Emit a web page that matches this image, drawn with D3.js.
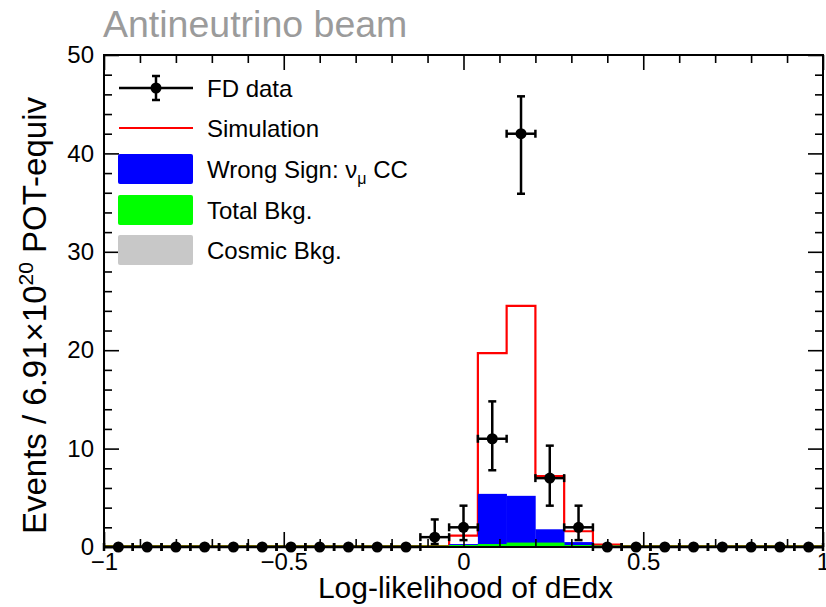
<!DOCTYPE html>
<html>
<head>
<meta charset="utf-8">
<script src="https://cdn.jsdelivr.net/npm/d3@7"></script>
<style>
  html, body { margin: 0; padding: 0; background: #fff; }
  svg { display: block; font-family: "Liberation Sans", Arial, Helvetica, sans-serif; }
</style>
</head>
<body>
<svg id="chart" width="826" height="607"></svg>
<script>
// ---- data ----
const binCenters = [-0.96, -0.88, -0.80, -0.72, -0.64, -0.56, -0.48, -0.40, -0.32, -0.24, -0.16, -0.08,
                    0.00, 0.08, 0.16, 0.24, 0.32, 0.40, 0.48, 0.56, 0.64, 0.72, 0.80, 0.88, 0.96];
const fdData   = [0,0,0,0,0,0,0,0,0,0,0, 1, 2, 11, 42, 7, 2, 0,0,0,0,0,0,0,0];
const fdLow    = [0,0,0,0,0,0,0,0,0,0,0, 0.3, 0.7, 7.8, 35.9, 4.2, 0.7, 0,0,0,0,0,0,0,0];
const fdHigh   = [0,0,0,0,0,0,0,0,0,0,0, 2.8, 4.2, 14.8, 45.8, 10.3, 4.2, 0,0,0,0,0,0,0,0];
const simulation = [0.1,0.1,0.1,0.1,0.1,0.1,0.1,0.1,0.1,0.1,0.1, 0.1, 1.15, 19.7, 24.5, 7.2, 1.6, 0.25, 0.1,0.1,0.1,0.1,0.1,0.1,0.1];
const wrongSign  = [0,0,0,0,0,0,0,0,0,0,0, 0.05, 0.3, 5.4, 5.2, 1.8, 0.5, 0.05, 0,0,0,0,0,0,0];
const totalBkg   = [0.15,0.15,0.15,0.15,0.15,0.15,0.15,0.15,0.15,0.15,0.15, 0.15, 0.2, 0.3, 0.45, 0.45, 0.2, 0.15, 0.15,0.15,0.15,0.15,0.15,0.15,0.15];
const cosmicBkg  = [0.1,0.1,0.1,0.1,0.1,0.1,0.1,0.1,0.1,0.1,0.1, 0.1, 0.1, 0.1, 0.1, 0.1, 0.1, 0.1, 0.1,0.1,0.1,0.1,0.1,0.1,0.1];
const xMajorTicks = [-1, -0.5, 0, 0.5, 1];
const yMajorTicks = [0, 10, 20, 30, 40, 50];
const legendLabels = ["FD data", "Simulation", "Wrong Sign: ", "Total Bkg.", "Cosmic Bkg."];

// ---- layout ----
const svg = d3.select("#chart");
const x = d3.scaleLinear().domain([-1, 1]).range([104, 823]);
const y = d3.scaleLinear().domain([0, 50]).range([547, 55]);
const binW = binCenters[1] - binCenters[0];

// title
svg.append("text").attr("x", 103).attr("y", 37)
  .attr("font-size", 37.5).attr("fill", "#9b9b9b").text("Antineutrino beam");

const plot = svg.append("g");

// Simulation (red step line) drawn first
const stepPts = [];
binCenters.forEach((c, i) => {
  stepPts.push([c - binW / 2, simulation[i]]);
  stepPts.push([c + binW / 2, simulation[i]]);
});
plot.append("path")
  .attr("d", d3.line().x(d => x(d[0])).y(d => y(d[1]))(stepPts))
  .attr("fill", "none").attr("stroke", "#ff0000").attr("stroke-width", 2.2);

// filled histograms
function fillHist(vals, color) {
  plot.append("g").selectAll("rect").data(binCenters).join("rect")
    .attr("x", c => x(c - binW / 2))
    .attr("width", c => x(c + binW / 2) - x(c - binW / 2) + 0.3)
    .attr("y", (c, i) => y(vals[i]))
    .attr("height", (c, i) => y(0) - y(vals[i]))
    .attr("fill", color);
}
fillHist(wrongSign, "#0000ff");
fillHist(totalBkg, "#00ff00");
fillHist(cosmicBkg, "#c8c8c8");

// axes ticks
function styleAxis(g) {
  g.select(".domain").remove();
  g.selectAll(".tick line").attr("stroke", "#000").attr("stroke-width", 1.6);
  g.selectAll("text").attr("font-size", 24).attr("fill", "#000")
    .attr("font-family", "'Liberation Sans', Arial, sans-serif");
}
const xMinor = d3.range(-10, 11).map(v => v / 10).filter(v => !xMajorTicks.some(m => Math.abs(m - v) < 1e-9));
const yMinor = d3.range(0, 51, 2).filter(v => v % 10 !== 0);
const fmt = d3.format("~g");

svg.append("g").attr("transform", `translate(0,${y(0)})`)
  .call(d3.axisBottom(x).tickValues(xMajorTicks).tickSize(-15).tickPadding(6).tickFormat(fmt)).call(styleAxis);
svg.append("g").attr("transform", `translate(0,${y(0)})`)
  .call(d3.axisBottom(x).tickValues(xMinor).tickSize(-8).tickFormat("")).call(styleAxis);
svg.append("g").attr("transform", `translate(0,${y(50)})`)
  .call(d3.axisTop(x).tickValues(xMajorTicks).tickSize(-15).tickFormat("")).call(styleAxis);
svg.append("g").attr("transform", `translate(0,${y(50)})`)
  .call(d3.axisTop(x).tickValues(xMinor).tickSize(-8).tickFormat("")).call(styleAxis);

svg.append("g").attr("transform", `translate(${x(-1)},0)`)
  .call(d3.axisLeft(y).tickValues(yMajorTicks).tickSize(-15).tickPadding(10).tickFormat(fmt)).call(styleAxis);
svg.append("g").attr("transform", `translate(${x(-1)},0)`)
  .call(d3.axisLeft(y).tickValues(yMinor).tickSize(-8).tickFormat("")).call(styleAxis);
svg.append("g").attr("transform", `translate(${x(1)},0)`)
  .call(d3.axisRight(y).tickValues(yMajorTicks).tickSize(-15).tickFormat("")).call(styleAxis);
svg.append("g").attr("transform", `translate(${x(1)},0)`)
  .call(d3.axisRight(y).tickValues(yMinor).tickSize(-8).tickFormat("")).call(styleAxis);

// data points
const dg = svg.append("g").attr("stroke", "#000").attr("stroke-width", 2.5);
const cap = 4;
binCenters.forEach((c, i) => {
  const cx = x(c), cy = y(fdData[i]);
  const x0 = x(c - binW / 2), x1 = x(c + binW / 2);
  dg.append("line").attr("x1", x0).attr("x2", x1).attr("y1", cy).attr("y2", cy);
  dg.append("line").attr("x1", x0).attr("x2", x0).attr("y1", cy - cap).attr("y2", cy + cap);
  dg.append("line").attr("x1", x1).attr("x2", x1).attr("y1", cy - cap).attr("y2", cy + cap);
  if (fdData[i] > 0) {
    const yl = y(fdLow[i]), yh = y(fdHigh[i]);
    dg.append("line").attr("x1", cx).attr("x2", cx).attr("y1", yl).attr("y2", yh);
    dg.append("line").attr("x1", cx - cap).attr("x2", cx + cap).attr("y1", yl).attr("y2", yl);
    dg.append("line").attr("x1", cx - cap).attr("x2", cx + cap).attr("y1", yh).attr("y2", yh);
  }
  svg.append("circle").attr("cx", cx).attr("cy", cy).attr("r", 5.5).attr("fill", "#000");
});

// frame
svg.append("rect").attr("x", x(-1)).attr("y", y(50))
  .attr("width", x(1) - x(-1)).attr("height", y(0) - y(50))
  .attr("fill", "none").attr("stroke", "#000").attr("stroke-width", 2);

// legend
const lg = svg.append("g");
const lx0 = 119, lx1 = 193, ltx = 207;
const rowY = [88, 128, 169, 210, 250];
// FD data marker
lg.append("line").attr("x1", lx0).attr("x2", lx1).attr("y1", rowY[0]).attr("y2", rowY[0]).attr("stroke", "#000").attr("stroke-width", 2.5);
lg.append("line").attr("x1", 156).attr("x2", 156).attr("y1", rowY[0] - 12).attr("y2", rowY[0] + 12).attr("stroke", "#000").attr("stroke-width", 2.5);
lg.append("line").attr("x1", 152).attr("x2", 160).attr("y1", rowY[0] - 12).attr("y2", rowY[0] - 12).attr("stroke", "#000").attr("stroke-width", 2.5);
lg.append("line").attr("x1", 152).attr("x2", 160).attr("y1", rowY[0] + 12).attr("y2", rowY[0] + 12).attr("stroke", "#000").attr("stroke-width", 2.5);
lg.append("circle").attr("cx", 156).attr("cy", rowY[0]).attr("r", 5.5).attr("fill", "#000");
// Simulation
lg.append("line").attr("x1", lx0).attr("x2", lx1).attr("y1", rowY[1]).attr("y2", rowY[1]).attr("stroke", "#ff0000").attr("stroke-width", 2);
// boxes
[["#0000ff", 2], ["#00ff00", 3], ["#c8c8c8", 4]].forEach(([col, r]) => {
  lg.append("rect").attr("x", 118).attr("y", rowY[r] - 15).attr("width", 75).attr("height", 30)
    .attr("rx", 2).attr("fill", col);
});
// texts
legendLabels.forEach((t, i) => {
  const tx = lg.append("text").attr("x", ltx).attr("y", rowY[i] + 9).attr("font-size", 24).attr("fill", "#000");
  if (i === 2) {
    tx.append("tspan").text("Wrong Sign: \u03BD");
    tx.append("tspan").attr("font-size", 16).attr("dy", 6).text("\u03BC");
    tx.append("tspan").attr("dy", -6).text(" CC");
  } else {
    tx.text(t);
  }
});

// axis titles
svg.append("text").attr("x", (x(-1) + x(1)) / 2 + 2).attr("y", 598).attr("text-anchor", "middle")
  .attr("font-size", 30).attr("fill", "#000").text("Log-likelihood of dEdx");

const yt = svg.append("text").attr("transform", `translate(46,${y(50) + 42}) rotate(-90)`)
  .attr("text-anchor", "end").attr("font-size", 33).attr("fill", "#000");
yt.append("tspan").text("Events / 6.91\u00D710");
yt.append("tspan").attr("font-size", 21).attr("dy", -13).text("20");
yt.append("tspan").attr("dy", 13).text(" POT-equiv");
</script>
</body>
</html>
